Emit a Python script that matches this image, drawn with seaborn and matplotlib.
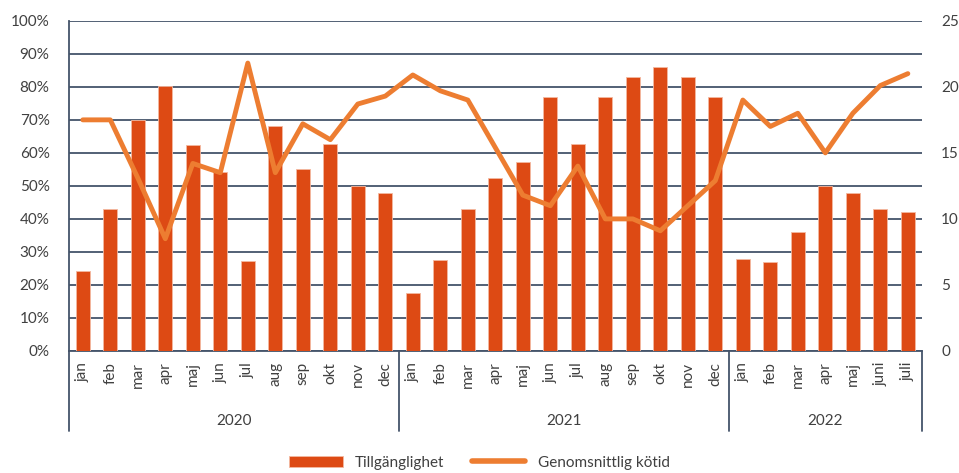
import numpy as np
import pandas as pd
import matplotlib
matplotlib.use("Agg")
import matplotlib.pyplot as plt
import matplotlib.transforms as mtransforms
from matplotlib.lines import Line2D
from matplotlib.patches import Patch
import seaborn as sns

# Data
years = ["2020", "2021", "2022"]
months_2020 = ["jan", "feb", "mar", "apr", "maj", "jun", "jul", "aug", "sep", "okt", "nov", "dec"]
months_2021 = ["jan", "feb", "mar", "apr", "maj", "jun", "jul", "aug", "sep", "okt", "nov", "dec"]
months_2022 = ["jan", "feb", "mar", "apr", "maj", "juni", "juli"]

tillganglighet = [24.2, 43.0, 70.0, 80.4, 62.3, 54.3, 27.4, 68.0, 55.0, 62.8, 50.0, 47.8,
                  17.5, 27.7, 43.0, 52.4, 57.2, 77.0, 62.8, 76.9, 82.9, 86.0, 82.9, 76.9,
                  27.9, 26.9, 36.1, 49.9, 47.9, 42.9, 42.0]
kotid = [17.5, 17.5, 13.1, 8.5, 14.2, 13.5, 21.8, 13.5, 17.2, 16.0, 18.7, 19.3,
         20.9, 19.7, 19.0, 15.4, 11.8, 11.0, 14.0, 10.0, 10.0, 9.1, 11.0, 12.9,
         19.0, 17.0, 18.0, 15.0, 18.0, 20.1, 21.0]

month_labels = months_2020 + months_2021 + months_2022
year_of = [years[0]] * len(months_2020) + [years[1]] * len(months_2021) + [years[2]] * len(months_2022)
keys = [f"{y}-{m}" for y, m in zip(year_of, month_labels)]
df = pd.DataFrame({"key": keys, "Tillgänglighet": tillganglighet, "kotid": kotid})

sns.set_style("white")
plt.rcParams["font.family"] = ["Lato", "DejaVu Sans"]
text_col = "#404040"
grid_col = "#44546A"
bar_col = "#DD4A14"
line_col = "#ED7D31"

fig = plt.figure(figsize=(9.59, 4.73), dpi=100)
ax = fig.add_axes([0.072, 0.258, 0.889, 0.698])

sns.barplot(data=df, x="key", y="Tillgänglighet", order=keys, color=bar_col,
            width=0.5, saturation=1, edgecolor="#F4B9A0", linewidth=0.6, ax=ax, zorder=3)
ax.set_ylim(0, 100)
ax.set_xlim(-0.5, len(keys) - 0.5)
ax.set_yticks(np.arange(0, 101, 10))
ax.set_yticklabels([f"{v}%" for v in range(0, 101, 10)], fontsize=11, color=text_col)
ax.yaxis.grid(True, color=grid_col, linewidth=1.3, zorder=0)
ax.set_axisbelow(True)
ax.set_xticks(range(len(keys)))
ax.set_xticklabels(month_labels, rotation=90, fontsize=11, color=text_col)
ax.tick_params(axis="x", length=0, pad=8)
ax.tick_params(axis="y", length=0, pad=14)
ax.set_xlabel("")
ax.set_ylabel("")
for s in ["top", "right"]:
    ax.spines[s].set_visible(False)
for s in ["left", "bottom"]:
    ax.spines[s].set_color(grid_col)
    ax.spines[s].set_linewidth(1.3)

ax2 = ax.twinx()
sns.lineplot(x=np.arange(len(kotid)), y=kotid, ax=ax2, color=line_col, linewidth=3.5,
             solid_capstyle="round", solid_joinstyle="round", zorder=4)
ax2.set_ylim(0, 25)
ax2.set_yticks(range(0, 26, 5))
ax2.set_yticklabels([str(v) for v in range(0, 26, 5)], fontsize=11, color=text_col)
ax2.tick_params(axis="y", length=0, pad=14)
for s in ax2.spines.values():
    s.set_visible(False)
ax2.set_xlim(-0.5, len(keys) - 0.5)

# year group separators and labels below the axis
trans = mtransforms.blended_transform_factory(ax.transData, ax.transAxes)
bounds = [-0.5, 11.5, 23.5, len(keys) - 0.5]
for b in bounds:
    ax.add_line(Line2D([b, b], [0, -0.243], transform=trans, color=grid_col,
                       linewidth=1.3, clip_on=False))
for i, y in enumerate(years):
    ax.text((bounds[i] + bounds[i + 1]) / 2, -0.213, y, transform=trans,
            ha="center", va="center", fontsize=11, color=text_col)

handles = [Patch(facecolor=bar_col, edgecolor="#F4B9A0", linewidth=0.6),
           Line2D([0], [0], color=line_col, linewidth=4, solid_capstyle="round")]
fig.legend(handles, ["Tillgänglighet", "Genomsnittlig kötid"], loc="center",
           bbox_to_anchor=(0.5, 0.022), ncol=2, frameon=False, fontsize=11,
           handlelength=3.5, columnspacing=1.8, labelcolor=text_col)

plt.savefig("out.png", dpi=100)
